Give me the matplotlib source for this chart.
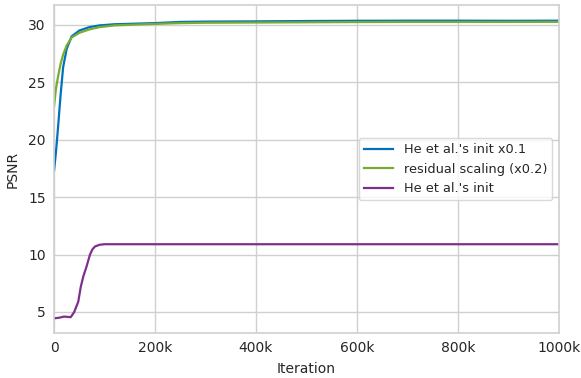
import matplotlib
matplotlib.use("Agg")
import matplotlib.pyplot as plt
from matplotlib.ticker import FuncFormatter

# iterations (in thousands)
iters_he01 = [0, 4, 8, 13, 18, 25, 35, 50, 70, 90, 120, 160, 200, 250, 300, 400, 500, 600, 700, 800, 900, 1000]
psnr_he01 = [17.3, 19.0, 21.1, 23.9, 26.3, 27.9, 29.0, 29.5, 29.8, 29.95, 30.05, 30.1, 30.15, 30.25, 30.28, 30.3, 30.33, 30.35, 30.36, 30.36, 30.35, 30.36]

iters_res = [0, 4, 8, 13, 18, 25, 35, 50, 70, 90, 120, 160, 200, 250, 300, 400, 500, 600, 700, 800, 900, 1000]
psnr_res = [22.9, 24.5, 25.5, 26.6, 27.4, 28.2, 28.9, 29.3, 29.6, 29.8, 29.95, 30.02, 30.08, 30.15, 30.18, 30.2, 30.22, 30.24, 30.25, 30.25, 30.25, 30.26]

iters_he = [0, 10, 20, 33, 40, 48, 53, 58, 64, 71, 76, 81, 90, 100, 111, 150, 200, 300, 400, 500, 600, 700, 800, 900, 1000]
psnr_he = [4.45, 4.5, 4.6, 4.55, 5.0, 5.9, 7.2, 8.1, 8.9, 9.97, 10.45, 10.7, 10.85, 10.9, 10.9, 10.9, 10.9, 10.9, 10.9, 10.9, 10.9, 10.9, 10.9, 10.9, 10.9]

labels = ["He et al.'s init x0.1", "residual scaling (x0.2)", "He et al.'s init"]
colors = ["#0072BD", "#77AC30", "#7E2F8E"]

fig, ax = plt.subplots(figsize=(5.81, 3.78), dpi=100)
fig.subplots_adjust(left=0.093, right=0.962, top=0.986, bottom=0.119)

ax.plot([i * 1000 for i in iters_he01], psnr_he01, color=colors[0], lw=1.6, label=labels[0])
ax.plot([i * 1000 for i in iters_res], psnr_res, color=colors[1], lw=1.6, label=labels[1])
ax.plot([i * 1000 for i in iters_he], psnr_he, color=colors[2], lw=1.6, label=labels[2])

ax.set_xlim(0, 1000000)
ax.set_ylim(3.17, 31.7)
ax.set_xticks([0, 200000, 400000, 600000, 800000, 1000000])
ax.xaxis.set_major_formatter(FuncFormatter(lambda v, p: "0" if v == 0 else f"{int(v / 1000)}k"))
ax.set_yticks([5, 10, 15, 20, 25, 30])

txt = "#262626"
ax.set_xlabel("Iteration", fontsize=10, color=txt, labelpad=5)
ax.set_ylabel("PSNR", fontsize=10, color=txt, labelpad=6)
ax.tick_params(axis="both", labelsize=10, colors=txt, length=0, pad=6)
ax.grid(True, color="#d0d0d0", lw=1)
ax.set_axisbelow(True)
for s in ax.spines.values():
    s.set_color("#d0d0d0")
    s.set_linewidth(1.2)

leg = ax.legend(loc="center right", bbox_to_anchor=(1.0, 0.50), fontsize=9.3, frameon=True,
                edgecolor="#d0d0d0", handlelength=2.3)
for t in leg.get_texts():
    t.set_color(txt)

fig.savefig("out.png", dpi=100)
